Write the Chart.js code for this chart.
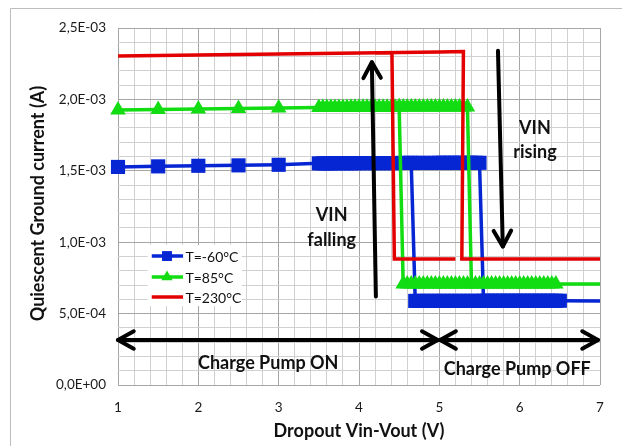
<!DOCTYPE html>
<html><head><meta charset="utf-8">
<script src="https://cdn.jsdelivr.net/npm/chart.js@4.4.0/dist/chart.umd.min.js"></script>
<style>html,body{margin:0;padding:0;background:#fff}#wrap{width:622px;height:446px;position:relative}</style>
</head><body><div id="wrap"><canvas id="c" width="622" height="446"></canvas></div>
<script>
// ---------- data (current values in mA; axis labelled in A) ----------
const xTickLabels = ['1','2','3','4','5','6','7'];
const yTickLabels = ['0,0E+00','5,0E-04','1,0E-03','1,5E-03','2,0E-03','2,5E-03'];
const seriesNames = ['T=-60°C','T=85°C','T=230°C'];
const xTitle = 'Dropout Vin-Vout (V)';
const yTitle = 'Quiescent Ground current (A)';

// T=-60°C : VIN rising sweep, then VIN falling sweep
const blueRiseX = [1,1.5,2,2.5,3,
  3.5,3.55,3.6,3.65,3.7,3.75,3.8,3.85,3.9,3.95,4,4.05,4.1,4.15,4.2,4.25,4.3,4.35,4.4,4.45,
  4.5,4.55,4.6,4.65,4.7,4.75,4.8,4.85,4.9,4.95,5,5.05,5.1,5.15,5.2,5.25,5.3,5.35,5.4,5.45,5.5,
  5.55,5.6,5.65,5.7,5.75,5.8,5.85,5.9,5.95,6,6.05,6.1,6.15,6.2,6.25,6.3,6.35,6.4,6.45,6.5,
  7.5];
const blueRiseY = [1.527,1.531,1.535,1.538,1.542,
  1.552,1.552,1.552,1.552,1.553,1.553,1.553,1.553,1.553,1.553,1.554,1.554,1.554,1.554,1.554,1.554,1.554,1.554,1.554,1.554,
  1.555,1.555,1.555,1.555,1.555,1.555,1.555,1.555,1.555,1.555,1.556,1.556,1.556,1.556,1.556,1.556,1.556,1.556,1.556,1.556,1.556,
  0.590,0.590,0.590,0.590,0.590,0.590,0.590,0.590,0.590,0.590,0.590,0.590,0.590,0.590,0.590,0.590,0.590,0.590,0.590,0.590,
  0.588];
const blueFallX = [5.5,5.45,5.4,5.35,5.3,5.25,5.2,5.15,5.1,5.05,5,4.95,4.9,4.85,4.8,4.75,4.7,4.65];
const blueFallY = [0.589,0.589,0.589,0.589,0.589,0.589,0.589,0.589,0.589,0.589,0.589,0.589,0.589,0.589,0.589,0.589,0.589,1.555];

// T=85°C
const greenRiseX = [1,1.5,2,2.5,3,
  3.5,3.55,3.6,3.65,3.7,3.75,3.8,3.85,3.9,3.95,4,4.05,4.1,4.15,4.2,4.25,4.3,4.35,4.4,4.45,
  4.5,4.55,4.6,4.65,4.7,4.75,4.8,4.85,4.9,4.95,5,5.05,5.1,5.15,5.2,5.25,5.3,5.35,
  5.4,5.45,5.5,5.55,5.6,5.65,5.7,5.75,5.8,5.85,5.9,5.95,6,6.05,6.1,6.15,6.2,6.25,6.3,6.35,6.4,6.45,
  7.5];
const greenRiseY = [1.925,1.929,1.933,1.936,1.940,
  1.944,1.944,1.944,1.944,1.944,1.944,1.944,1.944,1.945,1.945,1.945,1.945,1.945,1.945,1.945,1.945,1.945,1.945,1.945,1.945,
  1.946,1.946,1.946,1.946,1.946,1.946,1.946,1.946,1.946,1.946,1.946,1.946,1.946,1.946,1.946,1.946,1.946,1.946,
  0.707,0.707,0.707,0.707,0.707,0.707,0.707,0.707,0.707,0.707,0.707,0.707,0.707,0.707,0.707,0.707,0.707,0.707,0.707,0.707,0.707,0.707,
  0.707];
const greenFallX = [5.35,5.3,5.25,5.2,5.15,5.1,5.05,5,4.95,4.9,4.85,4.8,4.75,4.7,4.65,4.6,4.55,4.5];
const greenFallY = [0.707,0.707,0.707,0.707,0.707,0.707,0.707,0.707,0.707,0.707,0.707,0.707,0.707,0.707,0.707,0.707,0.707,1.946];

// T=230°C
const redRiseX = [1,1.5,2,2.5,3,3.5,4,4.5,5,5.3,5.28,6,6.5,7.5];
const redRiseY = [2.304,2.307,2.311,2.314,2.318,2.321,2.325,2.328,2.332,2.336,0.882,0.882,0.882,0.882];
const redFallX = [5.2,4.8,4.44,4.41,4.2];
const redFallY = [0.882,0.882,0.882,2.327,2.326];

// annotations (data units)
const arrowFalling = [[4.21,0.62],[4.16,2.26]];
const arrowRising  = [[5.73,2.34],[5.79,0.97]];
const arrowPumpOn  = [[1.0,0.315],[4.98,0.315]];
const arrowPumpOff = [[5.01,0.315],[6.975,0.315]];
const noteTexts = ['VIN','falling','VIN','rising','Charge Pump ON','Charge Pump OFF'];
const noteX = [3.66,3.66,6.19,6.19,2.87,5.97];
const noteY = [1.19,1.015,1.80,1.632,0.154,0.112];
const legendX = [1.42,1.61,1.81,1.84];   // line start, marker, line end, text
const legendY = [0.903,0.756,0.616];

// ---------- styles ----------
const BLUE = '#0626d4', GREEN = '#12dc12', RED = '#e30000';
const FONT = "Lato, 'Liberation Sans', sans-serif";
Chart.defaults.font.family = FONT;

const pts = (xs, ys) => xs.map((x, i) => ({x, y: ys[i]}));
function ds(label, xs, ys, color, style, r, order) {
  return {label, data: pts(xs, ys), showLine: true, borderColor: color, backgroundColor: color,
    borderWidth: 3.5, pointStyle: style, pointRadius: r, pointBorderWidth: 0,
    pointBackgroundColor: color, order, clip: {left: 14, top: 10, right: 0, bottom: 10}};
}
const datasets = [
  ds(seriesNames[0], blueRiseX, blueRiseY, BLUE, 'rect', 10, 3),
  ds('', blueFallX, blueFallY, BLUE, 'rect', 10, 3),
  ds(seriesNames[1], greenRiseX, greenRiseY, GREEN, 'triangle', 9, 2),
  ds('', greenFallX, greenFallY, GREEN, 'triangle', 9, 2),
  ds(seriesNames[2], redRiseX, redRiseY, RED, false, 0, 1),
  ds('', redFallX, redFallY, RED, false, 0, 1)
];
const legendItems = [
  {ds: 0, color: BLUE, style: 'rect', r: 7},
  {ds: 2, color: GREEN, style: 'triangle', r: 6.5},
  {ds: 4, color: RED, style: false, r: 0}
];

const MAJOR = '#a6a6a6', MINOR = '#d0d0d0';

const decor = {
  id: 'decor',
  beforeDraw(chart) {
    const c = chart.ctx;
    c.save();
    c.fillStyle = '#fff'; c.fillRect(0, 0, chart.width, chart.height);
    c.strokeStyle = '#bdbdbd'; c.lineWidth = 1;
    c.beginPath(); c.moveTo(10.5, chart.height); c.lineTo(10.5, 8.5); c.lineTo(chart.width, 8.5); c.stroke();
    c.restore();
  },
  afterDraw(chart) {
    const c = chart.ctx, a = chart.chartArea;
    c.save();
    c.fillStyle = '#111'; c.font = 'bold 18px ' + FONT; c.textAlign = 'center'; c.textBaseline = 'middle';
    c.translate(38, (a.top + a.bottom) / 2 - 3);
    c.rotate(-Math.PI / 2);
    c.fillText(yTitle, 0, 0);
    c.restore();
  },
  afterDatasetsDraw(chart) {
    const c = chart.ctx, xs = chart.scales.x, ys = chart.scales.y;
    const px = v => xs.getPixelForValue(v), py = v => ys.getPixelForValue(v);
    c.save();
    // legend
    c.fillStyle = '#fff';
    c.fillRect(px(legendX[0]) - 4, py(legendY[0]) - 11, 94, 61);
    legendItems.forEach((it, i) => {
      const y = py(legendY[i]);
      c.strokeStyle = it.color; c.lineWidth = 3.5; c.lineCap = 'butt';
      c.beginPath(); c.moveTo(px(legendX[0]), y); c.lineTo(px(legendX[2]), y); c.stroke();
      if (it.style) {
        c.fillStyle = it.color;
        Chart.helpers.drawPoint(c, {pointStyle: it.style, radius: it.r, rotation: 0, borderWidth: 0}, px(legendX[1]), y);
      }
      c.fillStyle = '#111'; c.font = '14px ' + FONT; c.textBaseline = 'middle'; c.textAlign = 'left';
      c.fillText(datasets[it.ds].label, px(legendX[3]), y + 1);
    });
    // arrows
    c.strokeStyle = '#000'; c.lineWidth = 4; c.lineCap = 'round'; c.lineJoin = 'round';
    const head = (x, y, ang) => {
      const L = 18, a = Math.PI / 6.2;
      c.beginPath();
      c.moveTo(x - L * Math.cos(ang - a), y - L * Math.sin(ang - a));
      c.lineTo(x, y);
      c.lineTo(x - L * Math.cos(ang + a), y - L * Math.sin(ang + a));
      c.stroke();
    };
    const arrow = (seg, both) => {
      const x1 = px(seg[0][0]), y1 = py(seg[0][1]), x2 = px(seg[1][0]), y2 = py(seg[1][1]);
      c.beginPath(); c.moveTo(x1, y1); c.lineTo(x2, y2); c.stroke();
      const ang = Math.atan2(y2 - y1, x2 - x1);
      head(x2, y2, ang);
      if (both) head(x1, y1, ang + Math.PI);
    };
    arrow(arrowFalling, false);
    arrow(arrowRising, false);
    arrow(arrowPumpOn, true);
    arrow(arrowPumpOff, true);
    // texts
    c.fillStyle = '#111'; c.font = 'bold 18px ' + FONT; c.textAlign = 'center'; c.textBaseline = 'middle';
    noteTexts.forEach((t, i) => c.fillText(t, px(noteX[i]), py(noteY[i])));
    c.restore();
  }
};

new Chart(document.getElementById('c'), {
  type: 'scatter',
  data: {datasets},
  options: {
    responsive: false, animation: false, devicePixelRatio: 1, events: [],
    layout: {padding: {left: 10, right: 22, top: 28, bottom: 0}},
    plugins: {legend: {display: false}, tooltip: {enabled: false}},
    scales: {
      x: {
        type: 'linear', min: 1, max: 7,
        afterBuildTicks: s => { s.ticks = Array.from({length: 31}, (_, i) => ({value: 1 + i * 0.2})); },
        afterFit: s => { s.height = 61; },
        ticks: {autoSkip: false, maxRotation: 0, padding: 15, color: '#1a1a1a', font: {size: 13.5},
          callback: (v, i) => i % 5 === 0 ? xTickLabels[i / 5] : ''},
        grid: {drawTicks: false, color: c => (c.index % 5 === 0 ? MAJOR : MINOR), lineWidth: 1},
        border: {display: false},
        title: {display: true, text: xTitle, color: '#111', font: {size: 18, weight: 'bold'}, padding: {top: 0, bottom: 4}}
      },
      y: {
        type: 'linear', min: 0, max: 2.5,
        afterBuildTicks: s => { s.ticks = Array.from({length: 26}, (_, i) => ({value: i * 0.1})); },
        afterFit: s => { s.width = 108; },
        ticks: {autoSkip: false, padding: 12, color: '#1a1a1a', font: {size: 13.5},
          callback: (v, i) => i % 5 === 0 ? yTickLabels[i / 5] : ''},
        grid: {drawTicks: false, color: c => (c.index % 5 === 0 ? MAJOR : MINOR), lineWidth: 1},
        border: {display: false},
        title: {display: false}
      }
    }
  },
  plugins: [decor]
});
</script></body></html>
